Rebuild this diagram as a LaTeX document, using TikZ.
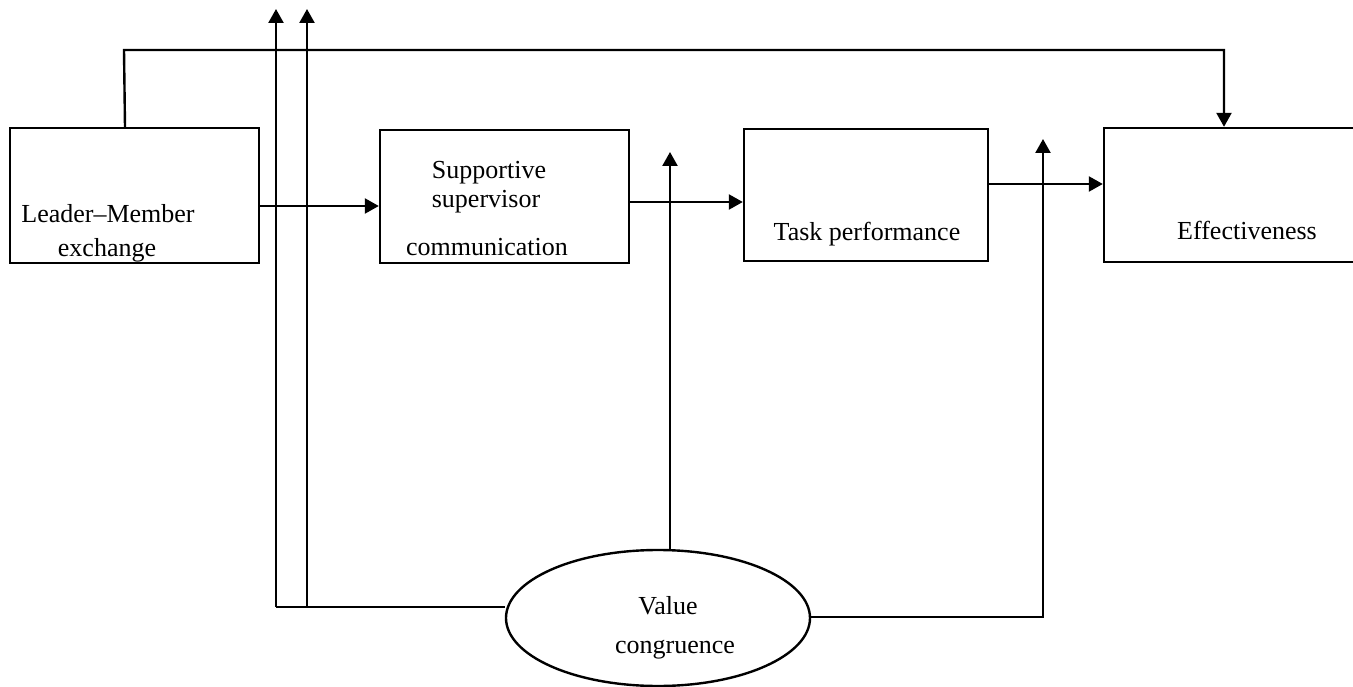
\documentclass[tikz,border=0pt]{standalone}
\usepackage{fontspec}
\setmainfont{Liberation Serif}
\usetikzlibrary{arrows.meta,shapes.geometric}
\begin{document}
\begin{tikzpicture}[x=1pt,y=-1pt,
  box/.style={draw,line width=2.4pt,minimum width=#1,inner sep=0pt},
  lbl/.style={font=\fontsize{26}{34}\selectfont,inner sep=0pt,align=center,anchor=base},
  conn/.style={line width=2.4pt},
  arr/.style={line width=2.4pt,-{Triangle[length=14pt,width=15pt]}}]
\useasboundingbox (0,0) rectangle (1353,687);
% boxes
\node[box=249pt,minimum height=135pt] (lmx) at (134.5,195.5) {};
\node[box=249pt,minimum height=133pt] (ssc) at (504.5,196.5) {};
\node[box=244pt,minimum height=132pt] (tp) at (866,195) {};
\node[box=252pt,minimum height=134pt] (eff) at (1230,195) {};
\node[draw,line width=2.4pt,ellipse,minimum width=304pt,minimum height=136pt,inner sep=0pt] (vc) at (658,618) {};
% labels
\node[lbl] (t1) at (108,223) {Leader--Member};
\node[lbl] (t2) at (107,257) {exchange};
\node[lbl] (t3) at (489,179) {Supportive};
\node[lbl] (t4) at (486,208) {supervisor};
\node[lbl] (t5) at (487,256) {communication};
\node[lbl] (t6) at (867,241) {Task performance};
\node[lbl] (t7) at (1247,240) {Effectiveness};
\node[lbl] (t8) at (668,614) {Value};
\node[lbl] (t9) at (675,653) {congruence};
% coordinates
\coordinate (a1) at (276,607);
\coordinate (a2) at (307,607);
\coordinate (a1t) at (276,9);
\coordinate (a2t) at (307,9);
\coordinate (m1) at (670,152);
\coordinate (r1) at (1043,617);
\coordinate (r2) at (1043,139);
\coordinate (p1) at (124,50);
\coordinate (p2) at (1224,50);
% horizontal arrows
\draw[arr] (lmx.east |- 0,206) -- (ssc.west |- 0,206);
\draw[arr] (ssc.east |- 0,202) -- (tp.west |- 0,202);
\draw[arr] (tp.east |- 0,184) -- (eff.west |- 0,184);
% top feedback line
\draw[arr] (lmx.north -| 125,0) -- (p1) -- (p2) -- (eff.north -| p2);
% value congruence lines
\draw[conn] (vc.west |- a1) -- (a1);
\draw[arr] (a1) -- (a1t);
\draw[arr] (a2) -- (a2t);
\draw[arr] (vc.north -| m1) -- (m1);
\draw[arr] (vc.east |- r1) -- (r1) -- (r2);
\end{tikzpicture}
\end{document}
